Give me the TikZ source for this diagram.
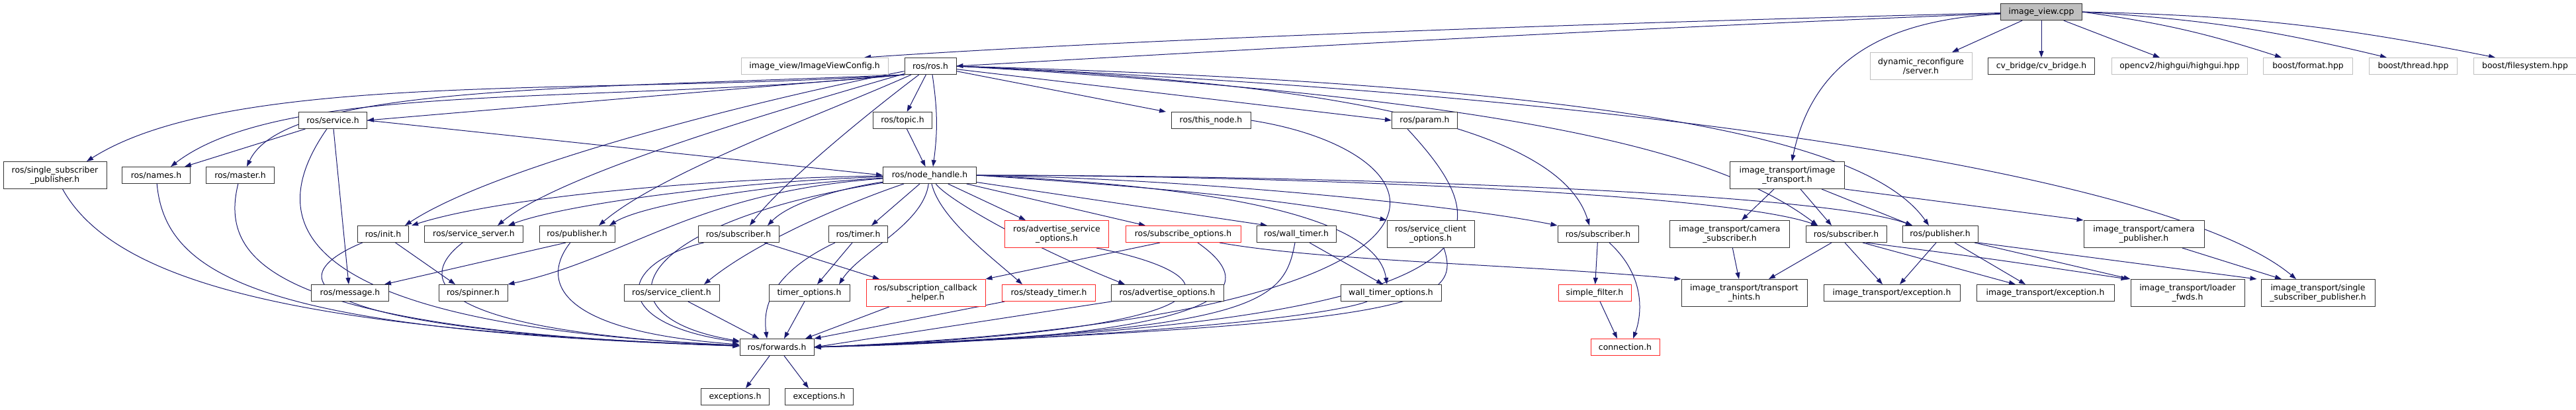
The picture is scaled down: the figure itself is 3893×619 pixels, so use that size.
\documentclass[tikz,border=0pt]{standalone}
\usepackage{fontspec}
\setmainfont{DejaVu Sans}
\usepackage{tikz}
\usetikzlibrary{arrows.meta,backgrounds}
\definecolor{edgeblue}{HTML}{191970}
\definecolor{extgray}{HTML}{BFBFBF}
\tikzset{
	hdr/.style={draw=black!80,fill=white,line width=1pt,inner sep=0pt,minimum height=25pt,align=center,font=\fontsize{12.4}{14}\selectfont},
	twoline/.style={hdr,minimum height=41pt},
	extbox/.style={draw=extgray},
	trunc/.style={draw=red!85},
	dep/.style={draw=edgeblue,line width=1pt,-{Triangle[length=10pt,width=7pt]}}
}

\begin{document}
\begin{tikzpicture}[x=1pt,y=-1pt]
	\useasboundingbox (0,0) rectangle (3893,619);
	
	%ROOT AND DIRECT INCLUDES
	\node[hdr,fill=extgray,minimum width=123pt] (root) at (3085,18) {image\_view.cpp};
	\node[hdr,extbox,minimum width=222pt] (cfg) at (1231,100) {image\_view/ImageViewConfig.h};
	\node[hdr,minimum width=78pt] (rosh) at (1406,100) {ros/ros.h};
	\node[twoline,extbox,minimum width=154pt] (dynrec) at (2903,100) {dynamic\_reconfigure\\/server.h};
	\node[hdr,minimum width=161pt] (cvb) at (3085,100) {cv\_bridge/cv\_bridge.h};
	\node[hdr,extbox,minimum width=205pt] (highgui) at (3294,100) {opencv2/highgui/highgui.hpp};
	\node[hdr,extbox,minimum width=135pt] (bfmt) at (3488,100) {boost/format.hpp};
	\node[hdr,extbox,minimum width=133pt] (bthr) at (3647,100) {boost/thread.hpp};
	\node[hdr,extbox,minimum width=156pt] (bfs) at (3816,100) {boost/filesystem.hpp};
	
	%SECOND ROW
	\node[hdr,minimum width=103pt] (service) at (503,182) {ros/service.h};
	\node[hdr,minimum width=89pt] (topic) at (1364,182) {ros/topic.h};
	\node[hdr,minimum width=120pt] (thisnode) at (1830,182) {ros/this\_node.h};
	\node[hdr,minimum width=99pt] (param) at (2153,182) {ros/param.h};
	
	%THIRD ROW
	\node[twoline,minimum width=156pt] (ssp) at (83,265) {ros/single\_subscriber\\\_publisher.h};
	\node[hdr,minimum width=103pt] (names) at (236,265) {ros/names.h};
	\node[hdr,minimum width=103pt] (master) at (363,265) {ros/master.h};
	\node[hdr,minimum width=141pt] (nh) at (1405,265) {ros/node\_handle.h};
	\node[twoline,minimum width=173pt] (itimg) at (2701,265) {image\_transport/image\\\_transport.h};
	
	%FOURTH ROW
	\node[hdr,minimum width=77pt] (init) at (579,354) {ros/init.h};
	\node[hdr,minimum width=149pt] (srvsrv) at (716,354) {ros/service\_server.h};
	\node[hdr,minimum width=114pt] (pub) at (872,354) {ros/publisher.h};
	\node[hdr,minimum width=122pt] (sub) at (1116,354) {ros/subscriber.h};
	\node[hdr,minimum width=89pt] (timer) at (1297,354) {ros/timer.h};
	\node[twoline,trunc,minimum width=157pt] (advsrvopt) at (1597,354) {ros/advertise\_service\\\_options.h};
	\node[hdr,trunc,minimum width=174pt] (subopt) at (1788,354) {ros/subscribe\_options.h};
	\node[hdr,minimum width=120pt] (walltimer) at (1959,354) {ros/wall\_timer.h};
	\node[twoline,minimum width=132pt] (srvcliopt) at (2162,354) {ros/service\_client\\\_options.h};
	\node[hdr,minimum width=122pt] (subb) at (2415,354) {ros/subscriber.h};
	\node[twoline,minimum width=181pt] (camsub) at (2614,354) {image\_transport/camera\\\_subscriber.h};
	\node[hdr,minimum width=122pt] (subc) at (2790,354) {ros/subscriber.h};
	\node[hdr,minimum width=114pt] (pubb) at (2932,354) {ros/publisher.h};
	\node[twoline,minimum width=182pt] (campub) at (3240,354) {image\_transport/camera\\\_publisher.h};
	
	%FIFTH ROW
	\node[hdr,minimum width=117pt] (message) at (529,443) {ros/message.h};
	\node[hdr,minimum width=104pt] (spinner) at (715,443) {ros/spinner.h};
	\node[hdr,minimum width=144pt] (srvcli) at (1015,443) {ros/service\_client.h};
	\node[hdr,minimum width=122pt] (timeropt) at (1223,443) {timer\_options.h};
	\node[twoline,trunc,minimum width=180pt] (subcb) at (1399,443) {ros/subscription\_callback\\\_helper.h};
	\node[hdr,trunc,minimum width=141pt] (steady) at (1585,443) {ros/steady\_timer.h};
	\node[hdr,minimum width=170pt] (advopt) at (1764,443) {ros/advertise\_options.h};
	\node[hdr,minimum width=152pt] (wtopt) at (2102,443) {wall\_timer\_options.h};
	\node[hdr,trunc,minimum width=110pt] (simple) at (2410,443) {simple\_filter.h};
	\node[twoline,minimum width=190pt] (hints) at (2636,443) {image\_transport/transport\\\_hints.h};
	\node[hdr,minimum width=206pt] (exca) at (2859,443) {image\_transport/exception.h};
	\node[hdr,minimum width=208pt] (excb) at (3091,443) {image\_transport/exception.h};
	\node[twoline,minimum width=172pt] (loader) at (3306,443) {image\_transport/loader\\\_fwds.h};
	\node[twoline,minimum width=172pt] (sspit) at (3503,443) {image\_transport/single\\\_subscriber\_publisher.h};
	
	%BOTTOM ROWS
	\node[hdr,minimum width=112pt] (fwd) at (1174,525) {ros/forwards.h};
	\node[hdr,trunc,minimum width=104pt] (conn) at (2456,525) {connection.h};
	\node[hdr,minimum width=103pt] (exc1) at (1111,600) {exceptions.h};
	\node[hdr,minimum width=103pt] (exc2) at (1238,600) {exceptions.h};
	
	\begin{pgfonlayer}{background}
	%EDGES FROM THE ROOT
	\draw[dep] (root) .. controls (2400,35) and (1700,60) .. ([xshift=75pt]cfg.north);
	\draw[dep] (root) .. controls (2400,45) and (1800,80) .. (rosh.east);
	\draw[dep] (root) .. controls (2850,30) and (2740,90) .. ([xshift=7pt]itimg.north);
	\draw[dep] (root) -- ([xshift=47pt]dynrec.north);
	\draw[dep] (root) -- (cvb);
	\draw[dep] (root) -- ([xshift=-30pt]highgui.north);
	\draw[dep] (root.east) to[bend left=5] ([xshift=-40pt]bfmt.north);
	\draw[dep] (root.east) to[bend left=5] ([xshift=-40pt]bthr.north);
	\draw[dep] (root.east) to[bend left=5] ([xshift=-45pt]bfs.north);
	
	%EDGES FROM ROS.H
	\draw[dep] (rosh.south west) -- (service.east);
	\draw[dep] (rosh.south west) .. controls (900,145) and (350,105) .. ([xshift=48pt]ssp.north);
	\draw[dep] (rosh.south west) .. controls (900,160) and (430,120) .. ([xshift=22pt]names.north);
	\draw[dep] (rosh.south west) .. controls (850,135) and (430,130) .. ([xshift=10pt]master.north);
	\draw[dep] (rosh) -- (topic);
	\draw[dep] ([xshift=3pt]rosh.south) to[bend left=8] ([xshift=5pt]nh.north);
	\draw[dep] (rosh) -- ([xshift=-68pt]thisnode.north);
	\draw[dep] (rosh) -- (param.west);
	\draw[dep] (rosh) .. controls (1150,150) and (750,250) .. ([xshift=33pt]init.north);
	\draw[dep] (rosh) .. controls (1200,160) and (850,260) .. ([xshift=36pt]srvsrv.north);
	\draw[dep] (rosh) .. controls (1250,170) and (1000,260) .. ([xshift=33pt]pub.north);
	\draw[dep] (rosh) .. controls (1300,180) and (1180,280) .. ([xshift=17pt]sub.north);
	\draw[dep] (rosh.east) .. controls (1900,120) and (2350,170) .. ([xshift=-13pt]subb.north);
	\draw[dep] (rosh.east) .. controls (2300,150) and (2600,230) .. ([xshift=-43pt]subc.north);
	\draw[dep] (rosh.east) .. controls (2500,130) and (2830,220) .. ([xshift=-17pt]pubb.north);
	\draw[dep] (rosh.east) .. controls (2600,150) and (3300,280) .. ([xshift=-33pt]sspit.north);
	
	%EDGES FROM NODE_HANDLE.H
	\draw[dep] (nh) .. controls (1050,270) and (750,300) .. ([xshift=43pt]init.north);
	\draw[dep] (nh) .. controls (1100,275) and (850,310) .. ([xshift=52pt]srvsrv.north);
	\draw[dep] (nh) .. controls (1150,280) and (970,310) .. ([xshift=49pt]pub.north);
	\draw[dep] (nh) .. controls (1050,290) and (950,390) .. (spinner.north east);
	\draw[dep] (nh) .. controls (1300,280) and (1200,300) .. ([xshift=44pt]sub.north);
	\draw[dep] (nh) -- ([xshift=20pt]timer.north);
	\draw[dep] (nh) .. controls (1300,300) and (1150,360) .. ([xshift=49pt]srvcli.north);
	\draw[dep] (nh) .. controls (1395,340) and (1300,380) .. ([xshift=45pt]timeropt.north);
	\draw[dep] (nh) .. controls (1420,330) and (1500,390) .. ([xshift=-40pt]steady.north);
	\draw[dep] (nh) .. controls (1430,300) and (1550,370) .. ([xshift=-64pt]advopt.north);
	\draw[dep] (nh) -- ([xshift=-47pt]advsrvopt.north);
	\draw[dep] (nh) -- ([xshift=-57pt]subopt.north);
	\draw[dep] (nh) -- ([xshift=-44pt]walltimer.north);
	\draw[dep] (nh.east) .. controls (1700,280) and (1950,300) .. (srvcliopt.north west);
	\draw[dep] (nh.east) .. controls (1800,280) and (2080,320) .. ([xshift=-6pt]wtopt.north);
	\draw[dep] (nh.east) .. controls (1800,270) and (2200,310) .. (subb.north west);
	\draw[dep] (nh.east) .. controls (1900,265) and (2600,290) .. ([xshift=-43pt]subc.north);
	\draw[dep] (nh.east) .. controls (2000,265) and (2750,290) .. ([xshift=-42pt]pubb.north);
	\draw[dep] (nh) .. controls (940,340) and (900,480) .. (fwd);
	
	%LEFT PART
	\draw[dep] (service) -- ([xshift=43pt]names.north);
	\draw[dep] ([xshift=1pt]service.south) -- ([xshift=-2pt]message.north);
	\draw[dep] (service) .. controls (400,330) and (420,490) .. (fwd);
	\draw[dep] (service.east) -- (nh.west);
	\draw[dep] (ssp) .. controls (180,440) and (500,500) .. (fwd);
	\draw[dep] (names) .. controls (250,420) and (400,500) .. (fwd);
	\draw[dep] (master) .. controls (330,400) and (420,500) .. (fwd);
	\draw[dep] (topic) -- (nh);
	\draw[dep] (init) -- ([xshift=-27pt]spinner.north);
	\draw[dep] (init) .. controls (420,420) and (440,500) .. (fwd);
	\draw[dep] (srvsrv) .. controls (630,420) and (640,500) .. (fwd);
	\draw[dep] ([xshift=-17pt]pub.south) -- ([xshift=52pt]message.north);
	\draw[dep] (pub) .. controls (820,420) and (830,500) .. (fwd);
	\draw[dep] (sub) .. controls (930,400) and (920,490) .. (fwd);
	\draw[dep] ([xshift=39pt]sub.south) -- ([xshift=-70pt]subcb.north);
	
	%MIDDLE PART
	\draw[dep] ([xshift=-9pt]timer.south) -- ([xshift=12pt]timeropt.north);
	\draw[dep] ([xshift=-35pt]timer.south) .. controls (1150,420) and (1155,480) .. ([xshift=-15pt]fwd.north);
	\draw[dep] (srvcli) -- ([xshift=-27pt]fwd.north);
	\draw[dep] (timeropt) -- ([xshift=11pt]fwd.north);
	\draw[dep] (subcb) -- ([xshift=43pt]fwd.north);
	\draw[dep] (steady) -- (fwd.north east);
	\draw[dep] (advopt) -- (fwd.east);
	\draw[dep] ([xshift=60pt]advsrvopt.south) .. controls (1880,420) and (1880,500) .. (fwd.east);
	\draw[dep] ([xshift=22pt]subopt.south) .. controls (1900,430) and (1900,510) .. (fwd.east);
	\draw[dep] ([xshift=-35pt]subopt.south) -- (subcb.north east);
	\draw[dep] ([xshift=55pt]subopt.south) .. controls (2000,395) and (2300,400) .. (hints.north west);
	\draw[dep] ([xshift=20pt]walltimer.south) -- ([xshift=-12pt]wtopt.north);
	\draw[dep] ([xshift=-2pt]walltimer.south) .. controls (1940,460) and (1900,500) .. (fwd.east);
	\draw[dep] (wtopt) .. controls (2000,480) and (1700,510) .. (fwd.east);
	\draw[dep] ([xshift=20pt]srvcliopt.south) .. controls (2210,460) and (2150,490) .. (fwd.east);
	\draw[dep] (thisnode.east) .. controls (2200,230) and (2300,480) .. (fwd.east);
	\draw[dep] ([xshift=-26pt]param.south) .. controls (2270,350) and (2320,490) .. (fwd.east);
	\draw[dep] ([xshift=-11pt]fwd.south) -- ([xshift=16pt]exc1.north);
	\draw[dep] ([xshift=11pt]fwd.south) -- ([xshift=-16pt]exc2.north);
	
	%IMAGE TRANSPORT PART
	\draw[dep] (subb) -- (simple);
	\draw[dep] ([xshift=17pt]subb.south) .. controls (2490,420) and (2480,480) .. ([xshift=12pt]conn.north);
	\draw[dep] ([xshift=8pt]simple.south) -- ([xshift=-12pt]conn.north);
	\draw[dep] ([xshift=-20pt]itimg.south) -- ([xshift=18pt]camsub.north);
	\draw[dep] ([xshift=20pt]itimg.south) -- ([xshift=-22pt]subc.north);
	\draw[dep] ([xshift=52pt]itimg.south) -- ([xshift=-42pt]pubb.north);
	\draw[dep] (itimg.south east) -- (campub.north west);
	\draw[dep] (camsub) -- ([xshift=-8pt]hints.north);
	\draw[dep] ([xshift=-22pt]subc.south) -- ([xshift=37pt]hints.north);
	\draw[dep] ([xshift=-2pt]subc.south) -- ([xshift=-14pt]exca.north);
	\draw[dep] ([xshift=25pt]subc.south) -- ([xshift=-45pt]excb.north);
	\draw[dep] ([xshift=30pt]subc.south) .. controls (3000,390) .. ([xshift=-4pt]loader.north west);
	\draw[dep] ([xshift=-6pt]pubb.south) -- ([xshift=12pt]exca.north);
	\draw[dep] ([xshift=22pt]pubb.south) -- ([xshift=-30pt]excb.north);
	\draw[dep] ([xshift=52pt]pubb.south) -- (loader.north west);
	\draw[dep] (pubb.south east) -- ([xshift=-6pt]sspit.north west);
	\draw[dep] ([xshift=58pt]campub.south) -- ([xshift=-55pt]sspit.north);
	\end{pgfonlayer}
\end{tikzpicture}
\end{document}
